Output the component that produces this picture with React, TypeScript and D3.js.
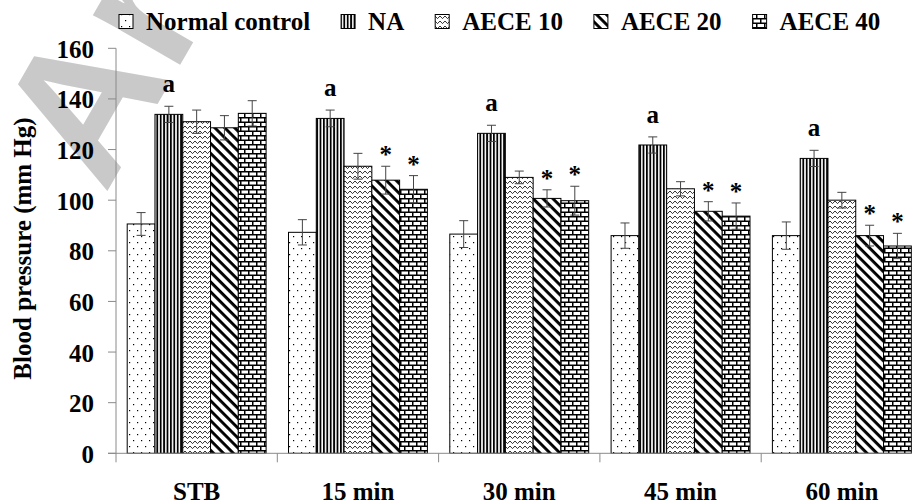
import React from "react";
import * as d3 from "d3";

// Blood pressure (mm Hg) per time point and treatment group, mean ± SEM
const categories = ["STB", "15 min", "30 min", "45 min", "60 min"];
const seriesNames = ["Normal control", "NA", "AECE 10", "AECE 20", "AECE 40"];

const normalControl = [90.6, 87.3, 86.6, 86.0, 86.0];
const naGroup = [133.9, 132.3, 126.4, 121.8, 116.5];
const aece10 = [131.0, 113.4, 109.0, 104.5, 100.0];
const aece20 = [128.6, 107.9, 100.7, 95.6, 86.0];
const aece40 = [134.3, 104.3, 99.8, 93.7, 81.9];

const normalControlErr = [4.5, 5.0, 5.3, 5.0, 5.4];
const naErr = [3.2, 3.3, 3.2, 3.2, 3.2];
const aece10Err = [4.6, 5.1, 2.5, 2.8, 3.1];
const aece20Err = [4.8, 5.5, 3.4, 3.8, 4.1];
const aece40Err = [5.0, 5.4, 5.7, 5.2, 5.0];

// significance marks: "a" vs normal control, "*" vs NA
const normalControlMarks = ["", "", "", "", ""];
const naMarks = ["a", "a", "a", "a", "a"];
const aece10Marks = ["", "", "", "", ""];
const aece20Marks = ["", "*", "*", "*", "*"];
const aece40Marks = ["", "*", "*", "*", "*"];

const yTicks = [0, 20, 40, 60, 80, 100, 120, 140, 160];

const seriesValues = [normalControl, naGroup, aece10, aece20, aece40];
const seriesErrors = [normalControlErr, naErr, aece10Err, aece20Err, aece40Err];
const seriesMarks = [normalControlMarks, naMarks, aece10Marks, aece20Marks, aece40Marks];
const patternIds = ["pDots", "pVert", "pWave", "pDiag", "pBrick"];

const W = 912;
const H = 503;
const FS = 25;
const serif: React.CSSProperties = {
  fontFamily: "'Liberation Serif', 'Times New Roman', serif",
  fontWeight: "bold",
  fontSize: FS,
};

const plotLeft = 116;
const step = 161.3;
const yZero = 453.3;
const yTop = 48.3;

function measure(text: string): number {
  const c = document.createElement("canvas").getContext("2d");
  if (!c) return text.length * FS * 0.5;
  c.font = `bold ${FS}px 'Liberation Serif'`;
  return c.measureText(text).width;
}

function Patterns() {
  return (
    <defs>
      <pattern id="pDots" patternUnits="userSpaceOnUse" width="8" height="12">
        <rect width="8" height="12" fill="#fff" />
        <rect x="1" y="2" width="1.2" height="1.2" fill="#000" />
        <rect x="5" y="8" width="1.2" height="1.2" fill="#000" />
      </pattern>
      <pattern id="pVert" patternUnits="userSpaceOnUse" width="3.4" height="10">
        <rect width="3.4" height="10" fill="#fff" />
        <rect x="0" y="0" width="1.8" height="10" fill="#000" />
      </pattern>
      <pattern id="pWave" patternUnits="userSpaceOnUse" width="5" height="5">
        <rect width="5" height="5" fill="#fff" />
        <path d="M0,1 L2.5,3.6 L5,1" fill="none" stroke="#000" strokeWidth="0.8" />
      </pattern>
      <pattern
        id="pDiag"
        patternUnits="userSpaceOnUse"
        width="7"
        height="7"
        patternTransform="rotate(45)"
      >
        <rect width="7" height="7" fill="#fff" />
        <rect x="0" y="0" width="7" height="2.9" fill="#000" />
      </pattern>
      <pattern id="pBrick" patternUnits="userSpaceOnUse" width="8" height="9">
        <rect width="8" height="9" fill="#000" />
        <rect x="1.5" y="1.5" width="6.5" height="3" fill="#fff" />
        <rect x="-2.5" y="6" width="6.5" height="3" fill="#fff" />
        <rect x="5.5" y="6" width="6.5" height="3" fill="#fff" />
      </pattern>
    </defs>
  );
}

export default function App() {
  const x0 = d3
    .scaleBand<string>()
    .domain(categories)
    .range([plotLeft, plotLeft + step * categories.length])
    .paddingInner(0)
    .paddingOuter(0);
  const x1 = d3
    .scaleBand<string>()
    .domain(seriesNames)
    .range([11.2, step - 11.2])
    .paddingInner(0);
  const y = d3.scaleLinear().domain([0, 160]).range([yZero, yTop]);

  const bw = x1.bandwidth();
  const axisColor = "#8a8a8a";

  // legend layout
  const legendItems: { name: string; x: number; pid: string }[] = [];
  let lx = 119;
  seriesNames.forEach((name, i) => {
    legendItems.push({ name, x: lx, pid: patternIds[i] });
    lx += 27 + measure(name) + 31;
  });

  return (
    <svg width={W} height={H} style={{ position: "absolute", left: 0, top: 0, background: "#fff" }}>
      <Patterns />
      <rect width={W} height={H} fill="#fff" />

      {/* watermark */}
      <text
        transform="translate(105,195) rotate(-60)"
        style={{ fontFamily: "'Liberation Sans', Arial, sans-serif", fontWeight: "bold", fontSize: 190 }}
        fill="#c9c9c9"
      >
        Archive of SID
      </text>

      {/* legend */}
      {legendItems.map((it) => (
        <g key={it.name}>
          <rect x={it.x} y={14.5} width={14} height={14} fill={`url(#${it.pid})`} stroke="#000" strokeWidth={1} />
          <text x={it.x + 27} y={29.5} style={serif} fill="#000">
            {it.name}
          </text>
        </g>
      ))}

      {/* y axis */}
      <line x1={plotLeft} x2={plotLeft} y1={yTop} y2={yZero} stroke={axisColor} strokeWidth={1} />
      {yTicks.map((t) => (
        <g key={t}>
          <line x1={108} x2={plotLeft} y1={y(t)} y2={y(t)} stroke={axisColor} strokeWidth={1} />
          <text x={94} y={y(t) + 9.5} textAnchor="end" style={serif} fill="#000">
            {t}
          </text>
        </g>
      ))}
      <text transform={`translate(30.5,248.5) rotate(-90)`} textAnchor="middle" style={serif} fill="#000">
        Blood pressure (mm Hg)
      </text>

      {/* bars */}
      {categories.map((cat, ci) => (
        <g key={cat}>
          {seriesNames.map((s, si) => {
            const v = seriesValues[si][ci];
            const bx = (x0(cat) as number) + (x1(s) as number);
            return (
              <rect
                key={s}
                x={bx}
                y={y(v)}
                width={bw}
                height={y(0) - y(v)}
                fill={`url(#${patternIds[si]})`}
                stroke="#000"
                strokeWidth={1}
              />
            );
          })}
        </g>
      ))}

      {/* x axis */}
      <line x1={108} x2={W + 20} y1={yZero} y2={yZero} stroke={axisColor} strokeWidth={1} />
      {d3.range(categories.length + 1).map((i) => (
        <line
          key={i}
          x1={plotLeft + i * step}
          x2={plotLeft + i * step}
          y1={yZero}
          y2={yZero + 9}
          stroke={axisColor}
          strokeWidth={1}
        />
      ))}
      {categories.map((cat) => (
        <text key={cat} x={(x0(cat) as number) + step / 2} y={499.5} textAnchor="middle" style={serif} fill="#000">
          {cat}
        </text>
      ))}

      {/* error bars and significance marks */}
      {categories.map((cat, ci) => (
        <g key={cat}>
          {seriesNames.map((s, si) => {
            const v = seriesValues[si][ci];
            const e = seriesErrors[si][ci];
            const cx = (x0(cat) as number) + (x1(s) as number) + bw / 2;
            const top = y(v + e);
            const bot = y(v - e);
            const mark = seriesMarks[si][ci];
            return (
              <g key={s}>
                <line x1={cx} x2={cx} y1={top} y2={bot} stroke="#444" strokeWidth={1} />
                <line x1={cx - 4.5} x2={cx + 4.5} y1={top} y2={top} stroke="#444" strokeWidth={1} />
                <line x1={cx - 4.5} x2={cx + 4.5} y1={bot} y2={bot} stroke="#444" strokeWidth={1} />
                {mark && (
                  <text x={cx} y={mark === "a" ? top - 14 : top - 3} textAnchor="middle" style={serif} fill="#000">
                    {mark}
                  </text>
                )}
              </g>
            );
          })}
        </g>
      ))}
    </svg>
  );
}
